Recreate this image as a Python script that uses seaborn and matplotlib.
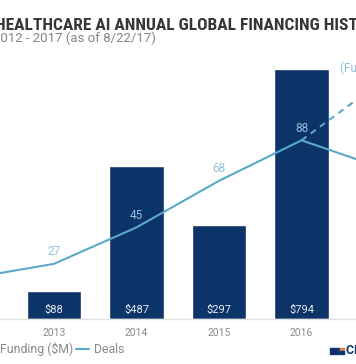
import numpy as np
import pandas as pd
import seaborn as sns
import matplotlib.pyplot as plt
from matplotlib import font_manager
from matplotlib.patches import Patch, Rectangle
from matplotlib.lines import Line2D

# data (2012 and 2017 sit outside the cropped frame, values estimated)
years = ['2012', '2013', '2014', '2015', '2016', '2017']
funding = [60, 88, 487, 297, 794, 760]
deals = [20, 27, 45, 68, 88, 74]
proj_years = ['2016', '2017']
deals_projected = [88, 118]

NAVY = '#0c3468'
TEAL = '#5aa9cb'
LIGHT_BLUE = '#93c1da'
GREY = '#8a8a8a'

W, H = 356, 364
BASE = 318.5      # pixel row of the baseline
STEP = 82.5       # pixels between year centres


def px(x):
    return x / W


def py(y):
    return (H - y) / H


def title_font():
    names = {f.name for f in font_manager.fontManager.ttflist}
    if 'Roboto Condensed' in names:
        return {'family': 'Roboto Condensed'}
    if 'Liberation Sans Narrow' in names:
        return {'family': 'Liberation Sans Narrow'}
    if any(f.name == 'DejaVu Sans' and f.stretch == 'condensed'
           for f in font_manager.fontManager.ttflist):
        return {'family': 'DejaVu Sans', 'fontstretch': 'condensed'}
    return {'family': 'Roboto'}


sns.set_style('white')
plt.rcParams['font.family'] = ['Roboto', 'DejaVu Sans']

fig = plt.figure(figsize=(W / 100, H / 100), dpi=100, facecolor='white')
ax = fig.add_axes([0, py(BASE), 1, BASE / H])

df = pd.DataFrame({'year': years, 'funding': funding})
sns.barplot(data=df, x='year', y='funding', color=NAVY, saturation=1,
            width=0.655, ax=ax)

for i, f in enumerate(funding):
    ax.annotate(f'${f}', (i, 0), xytext=(0, 6.5), textcoords='offset points',
                ha='center', va='center', fontsize=8, color='#e6ebf2')

ax2 = ax.twinx()
pos = np.arange(len(years))
sns.lineplot(x=pos, y=deals, ax=ax2, color=TEAL, lw=1.5)
sns.lineplot(x=pos[-2:], y=deals_projected, ax=ax2, color=TEAL, lw=1.5,
             linestyle=(0, (3, 2.5)))
for i, d in enumerate(deals):
    ax2.annotate(str(d), (i, d), xytext=(0, 8.8), textcoords='offset points',
                 ha='center', va='center', fontsize=8.5, color=LIGHT_BLUE)
ax2.text(4.467, 123.7, '(Full-year projection)', ha='left', va='center',
         fontsize=8.5, color=LIGHT_BLUE)

x0 = 1 - 54 / STEP
ax.set_xlim(x0, x0 + W / STEP)
ax.set_ylim(0, 1015)
ax2.set_ylim(0, 157.3)
ax.axhline(0, color='#e2e2e2', lw=1, clip_on=False)

ax.set_xlabel('')
ax.set_ylabel('')
ax2.set_ylabel('')
ax.set_yticks([])
ax2.set_yticks([])
ax.tick_params(axis='x', length=0, pad=6.5, labelsize=7.5, labelcolor=GREY)
for a in (ax, ax2):
    for s in a.spines.values():
        s.set_visible(False)

# title, fitted to the width it takes in the picture
tf = title_font()
probe = fig.text(0, 0, 'HEALTHCARE AI ANNUAL GLOBAL FINANCING HIST',
                 fontsize=13, fontweight='bold', **tf)
fig.canvas.draw()
size = 13 * 362 / probe.get_window_extent().width
probe.remove()
fig.text(px(-5), py(30), 'HEALTHCARE AI ANNUAL GLOBAL FINANCING HISTORY',
         fontsize=size, fontweight='bold', color='#363636', va='baseline', **tf)
fig.text(px(-7), py(42), '2012 - 2017 (as of 8/22/17)', fontsize=9.5,
         color='#858585', va='baseline')

handles = [Patch(color=NAVY, label='Funding ($M)'),
           Line2D([], [], color=TEAL, lw=1.5, label='Deals')]
fig.legend(handles=handles, loc='center left', bbox_to_anchor=(px(-18), py(349)),
           ncol=2, frameon=False, fontsize=8.8, handlelength=1.1,
           handletextpad=0.35, columnspacing=0.25, borderpad=0,
           borderaxespad=0, labelcolor=GREY)

# CB Insights mark
fig.add_artist(Rectangle((px(330), py(354)), 9 / W, 6 / H, color=NAVY,
                         transform=fig.transFigure))
fig.add_artist(Rectangle((px(340), py(351)), 4 / W, 3 / H, color='#e6834b',
                         transform=fig.transFigure))
fig.add_artist(Rectangle((px(340), py(354)), 4 / W, 3 / H, color=NAVY,
                         transform=fig.transFigure))
fig.text(px(346), py(351), 'CB INSIGHTS', fontsize=9, fontweight='bold',
         color=NAVY, va='center')

fig.savefig('out.png', dpi=100)
